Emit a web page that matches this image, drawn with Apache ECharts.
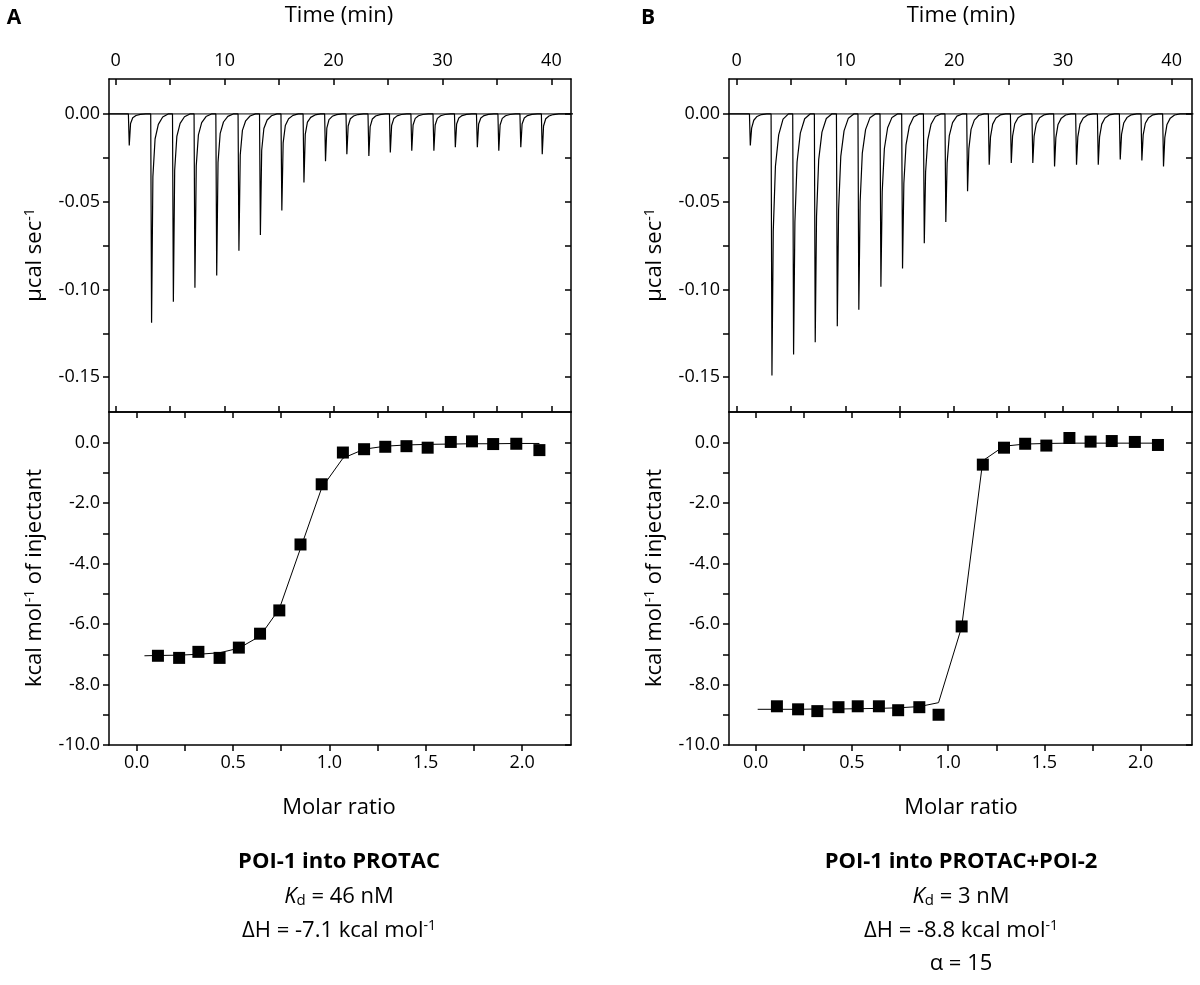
<!DOCTYPE html>
<html>
<head>
<meta charset="utf-8">
<title>ITC</title>
<script src="https://cdn.jsdelivr.net/npm/echarts@6/dist/echarts.min.js"></script>
<style>body{margin:0}#main{width:1200px;height:985px}</style>
</head>
<body>
<div id="main"></div>
<script>
// injection times (min) and peak depths (µcal/sec)
var timesA = [1.16, 3.21, 5.21, 7.19, 9.19, 11.23, 13.2, 15.17, 17.2, 19.18, 21.14, 23.16, 25.13, 27.1, 29.13, 31.1, 33.12, 35.09, 37.11, 39.08];
var peaksA = [-0.018, -0.119, -0.107, -0.099, -0.092, -0.078, -0.069, -0.055, -0.039, -0.027, -0.023, -0.024, -0.022, -0.021, -0.021, -0.019, -0.019, -0.021, -0.019, -0.023];
var timesB = [1.17, 3.16, 5.15, 7.14, 9.17, 11.15, 13.18, 15.17, 17.17, 19.15, 21.15, 23.14, 25.17, 27.15, 29.15, 31.17, 33.17, 35.19, 37.18, 39.17];
var peaksB = [-0.018, -0.149, -0.137, -0.130, -0.121, -0.1115, -0.0985, -0.088, -0.0737, -0.0616, -0.044, -0.029, -0.028, -0.028, -0.030, -0.029, -0.029, -0.026, -0.0265, -0.030];
// shape of one injection peak: time offsets and fraction of peak depth
var shapeDt = [0, 0.08, 0.2, 0.4, 0.7, 1.1, 1.6];
var shapeFracA = [0, 1, 0.3, 0.12, 0.05, 0.015, 0];
var shapeFracB = [0, 1, 0.45, 0.2, 0.08, 0.02, 0];

// integrated heats (kcal/mol of injectant)
var molarA = [0.11, 0.22, 0.32, 0.43, 0.53, 0.64, 0.74, 0.85, 0.96, 1.07, 1.18, 1.29, 1.40, 1.51, 1.63, 1.74, 1.85, 1.97, 2.09];
var heatA = [-7.05, -7.12, -6.92, -7.12, -6.78, -6.32, -5.55, -3.37, -1.38, -0.33, -0.22, -0.14, -0.12, -0.17, 0.02, 0.04, -0.05, -0.04, -0.25];
var fitXA = [0.04, 0.11, 0.22, 0.32, 0.43, 0.53, 0.64, 0.74, 0.85, 0.96, 1.07, 1.18, 1.29, 1.40, 1.51, 1.63, 1.74, 1.85, 1.97, 2.09];
var fitYA = [-7.05, -7.04, -7.03, -7.0, -6.95, -6.8, -6.4, -5.5, -3.5, -1.5, -0.52, -0.22, -0.12, -0.08, -0.06, -0.05, -0.04, -0.04, -0.03, -0.03];
var molarB = [0.11, 0.22, 0.32, 0.43, 0.53, 0.64, 0.74, 0.85, 0.95, 1.07, 1.18, 1.29, 1.40, 1.51, 1.63, 1.74, 1.85, 1.97, 2.09];
var heatB = [-8.72, -8.82, -8.88, -8.75, -8.72, -8.72, -8.85, -8.75, -9.0, -6.08, -0.73, -0.17, -0.04, -0.1, 0.15, 0.03, 0.05, 0.02, -0.08];
var fitXB = [0.01, 0.11, 0.22, 0.32, 0.43, 0.53, 0.64, 0.74, 0.85, 0.95, 1.07, 1.18, 1.29, 1.40, 1.51, 1.63, 1.74, 1.85, 1.97, 2.09];
var fitYB = [-8.82, -8.82, -8.82, -8.81, -8.81, -8.8, -8.79, -8.77, -8.73, -8.6, -6.1, -0.6, -0.12, -0.05, -0.03, -0.02, -0.02, -0.02, -0.02, -0.02];

var timeTicks = [0, 10, 20, 30, 40];
var timeAll = [0, 5, 10, 15, 20, 25, 30, 35, 40];
var rawTicks = [0, -0.05, -0.10, -0.15];
var rawAll = [0, -0.025, -0.05, -0.075, -0.10, -0.125, -0.15];
var molarTicks = [0, 0.5, 1.0, 1.5, 2.0];
var molarAll = [0, 0.25, 0.5, 0.75, 1.0, 1.25, 1.5, 1.75, 2.0];
var heatTicks = [0, -2, -4, -6, -8, -10];
var heatAll = [0, -1, -2, -3, -4, -5, -6, -7, -8, -9, -10];

function thermo(times, peaks, frac) {
  var out = [[-1, 0]];
  for (var i = 0; i < times.length; i++) {
    for (var j = 0; j < shapeDt.length; j++) {
      out.push([times[i] + shapeDt[j], peaks[i] * frac[j]]);
    }
  }
  out.push([42, 0]);
  return out;
}
function pairs(xs, ys) { return xs.map(function (x, i) { return [x, ys[i]]; }); }

var FONT = 'Open Sans';
var lineC = '#000';
var chart = echarts.init(document.getElementById('main'));

var panels = [
  {left: 109, width: 462, tmin: -0.62, tmax: 41.8, mmin: -0.144, mmax: 2.254},
  {left: 729, width: 463, tmin: -0.71, tmax: 41.87, mmin: -0.139, mmax: 2.267}
];
var grids = [], xAxes = [], yAxes = [], series = [];

panels.forEach(function (p, k) {
  var gTop = grids.length;
  grids.push({left: p.left, width: p.width, top: 79, height: 333});
  grids.push({left: p.left, width: p.width, top: 412, height: 333});
  var lblStyle = {fontFamily: FONT, fontSize: 18, color: '#000'};
  function ax(type, gi, min, max, pos, major, all, fmt, inside) {
    var list = type === 'x' ? xAxes : yAxes;
    list.push({type: 'value', gridIndex: gi, min: min, max: max, position: pos, offset: 0, splitLine: {show: false},
      axisLine: {show: true, onZero: false, lineStyle: {color: lineC, width: 1.5}},
      axisTick: {show: true, inside: inside, length: 6, lineStyle: {color: lineC, width: 1.5}, customValues: all},
      axisLabel: fmt ? Object.assign({show: true, customValues: major, formatter: fmt, margin: 9}, lblStyle) : {show: false}
    });
    return list.length - 1;
  }
  var f2 = function (v) { return v.toFixed(2); };
  var f1 = function (v) { return v.toFixed(1); };
  var f0 = function (v) { return String(Math.round(v)); };
  // thermogram panel
  var xt = ax('x', gTop, p.tmin, p.tmax, 'top', timeTicks, timeAll, f0, true);
  ax('x', gTop, p.tmin, p.tmax, 'bottom', timeTicks, timeAll, null, true);
  var yt = ax('y', gTop, -0.1698, 0.0199, 'left', rawTicks, rawAll, f2, false);
  ax('y', gTop, -0.1698, 0.0199, 'right', rawTicks, rawAll, null, true);
  // integrated heats panel
  var xb = ax('x', gTop + 1, p.mmin, p.mmax, 'bottom', molarTicks, molarAll, f1, false);
  ax('x', gTop + 1, p.mmin, p.mmax, 'top', molarTicks, molarAll, null, true);
  var yb = ax('y', gTop + 1, -10, 1.01, 'left', heatTicks, heatAll, f1, false);
  ax('y', gTop + 1, -10, 1.01, 'right', heatTicks, heatAll, null, true);

  series.push({type: 'line', xAxisIndex: xt, yAxisIndex: yt, showSymbol: false, silent: true,
    data: [[p.tmin, 0], [p.tmax, 0]], lineStyle: {color: '#000', width: 1}});
  series.push({type: 'line', xAxisIndex: xt, yAxisIndex: yt, showSymbol: false, clip: true,
    data: k === 0 ? thermo(timesA, peaksA, shapeFracA) : thermo(timesB, peaksB, shapeFracB),
    lineStyle: {color: '#000', width: 1.2}});
  series.push({type: 'line', xAxisIndex: xb, yAxisIndex: yb, showSymbol: false,
    data: k === 0 ? pairs(fitXA, fitYA) : pairs(fitXB, fitYB), lineStyle: {color: '#000', width: 1}});
  series.push({type: 'scatter', xAxisIndex: xb, yAxisIndex: yb, symbol: 'rect', symbolSize: 12,
    itemStyle: {color: '#000', opacity: 1}, data: k === 0 ? pairs(molarA, heatA) : pairs(molarB, heatB)});
});

var T = {fontFamily: FONT, fontSize: 22, fill: '#000'};
function txt(x, y, text, extra) {
  return {type: 'text', x: x, y: y, style: Object.assign({}, T, {text: text, align: 'center', verticalAlign: 'middle'}, extra || {})};
}
var rich = {sup: {fontFamily: FONT, fontSize: 14, verticalAlign: 'top', padding: [0, 0, 10, 0]},
  sub: {fontFamily: FONT, fontSize: 15, padding: [8, 0, 0, 0]},
  it: {fontFamily: FONT, fontSize: 22, fontStyle: 'italic'}};
var graphics = [
  txt(14, 18, 'A', {fontWeight: 'bold', fontSize: 21}),
  txt(648, 18, 'B', {fontWeight: 'bold', fontSize: 21})
];
[[339, 109], [961, 729]].forEach(function (c) {
  var cx = c[0], left = c[1];
  graphics.push(txt(cx, 16, 'Time (min)'));
  graphics.push(txt(cx, 808, 'Molar ratio'));
  graphics.push({type: 'text', x: left - 74, y: 255, rotation: Math.PI / 2,
    style: Object.assign({}, T, {text: 'µcal sec{sup|-1}', rich: rich, align: 'center', verticalAlign: 'middle'})});
  graphics.push({type: 'text', x: left - 74, y: 578, rotation: Math.PI / 2,
    style: Object.assign({}, T, {text: 'kcal mol{sup|-1} of injectant', rich: rich, align: 'center', verticalAlign: 'middle'})});
});
graphics.push(txt(339, 862, 'POI-1 into PROTAC', {fontWeight: 'bold'}));
graphics.push(txt(339, 897, '{it|K}{sub|d} = 46 nM', {rich: rich}));
graphics.push(txt(339, 931, 'ΔH = -7.1 kcal mol{sup|-1}', {rich: rich}));
graphics.push(txt(961, 862, 'POI-1 into PROTAC+POI-2', {fontWeight: 'bold'}));
graphics.push(txt(961, 897, '{it|K}{sub|d} = 3 nM', {rich: rich}));
graphics.push(txt(961, 931, 'ΔH = -8.8 kcal mol{sup|-1}', {rich: rich}));
graphics.push(txt(961, 964, 'α = 15'));

chart.setOption({
  animation: false,
  backgroundColor: '#fff',
  grid: grids,
  xAxis: xAxes,
  yAxis: yAxes,
  series: series,
  graphic: graphics
});
</script>
</body>
</html>
